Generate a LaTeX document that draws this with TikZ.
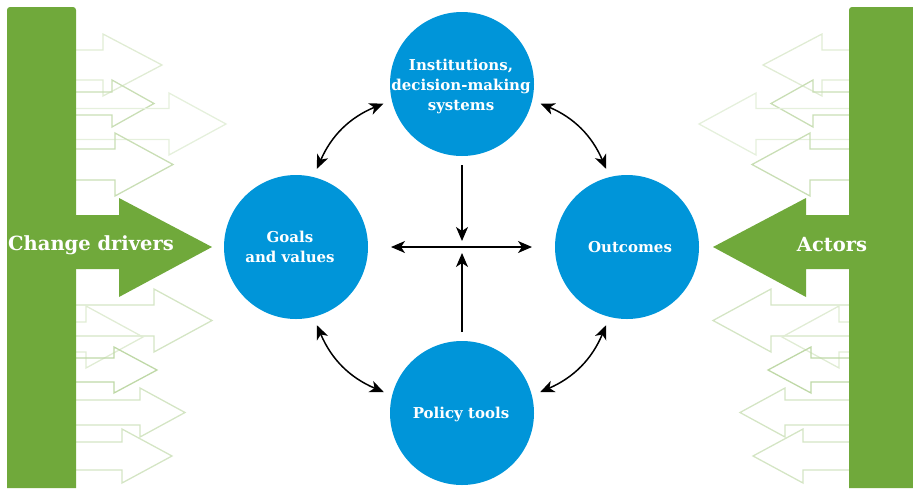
\documentclass[tikz,border=0pt]{standalone}
\usepackage{fontspec}
\setmainfont{DejaVu Serif}
\usetikzlibrary{arrows.meta}
\definecolor{gr}{HTML}{70A93B}
\definecolor{bl}{HTML}{0095D9}
\newcommand\fa[6]{%
  \draw[faint,draw=gr!#1!white] (76,#2-#3) -- (#5,#2-#3) -- (#5,#2-#4) -- (#6,#2) -- (#5,#2+#4) -- (#5,#2+#3) -- (76,#2+#3);}
\newcommand\sidepart{%
  \fa{22}{65}{15}{31}{103}{162}
  \fa{38}{103.5}{11.5}{23.5}{112}{154}
  \fa{18}{124}{15.5}{31}{169}{226}
  \fa{38}{164.5}{15.5}{31.5}{115}{173}
  \fa{30}{320.5}{15.5}{31.5}{154}{212}
  \fa{22}{337}{15}{31}{86}{143}
  \fa{45}{370}{12}{23}{114}{157}
  \fa{30}{412.5}{12.5}{24.5}{140}{185}
  \fa{30}{456}{14}{27}{122}{172}
  \fill[gr] (7,488) {[rounded corners=3pt] -- (7,7) -- (76,7)} -- (76,488) -- cycle;
  \fill[gr] (75,215) -- (119,215) -- (119,198) -- (212,247) -- (119,297) -- (119,269) -- (75,269) -- cycle;}
\begin{document}
\begin{tikzpicture}[x=1pt,y=-1pt,
  faint/.style={line width=1.3pt},
  circ/.style={circle,fill=bl,minimum size=144pt,inner sep=0pt,outer sep=9pt},
  ctext/.style={text=white,align=center,inner sep=0pt,font=\fontsize{15}{20}\selectfont\bfseries},
  hd/.tip={Stealth[length=14pt,width=12pt,inset=4pt]},
  arr/.style={-hd,line width=1.5pt},
  darr/.style={hd-hd,line width=1.5pt},
  lbl/.style={text=white,font=\fontsize{19.5}{24}\selectfont\bfseries,inner sep=0pt}]
\useasboundingbox (0,0) rectangle (913,488);
\sidepart
\begin{scope}[xshift=925pt,xscale=-1]
\sidepart
\end{scope}
\node[lbl] (cd) at (91,245) {Change drivers};
\node[lbl] (ac) at (832,245) {Actors};
\node[circ] (inst) at (462,84) {};
\node[ctext] (insttext) at (461,86) {Institutions,\\decision-making\\systems};
\node[circ] (goals) at (296,247) {};
\node[ctext] (goalstext) at (290,247) {Goals\\and values};
\node[circ] (outc) at (627,247) {};
\node[ctext] (outctext) at (630,247) {Outcomes};
\node[circ] (pol) at (462,413) {};
\node[ctext] (poltext) at (461,414) {Policy tools};
\coordinate (c) at (462,247);
\draw[arr,shorten >=6pt] (inst) -- (c);
\draw[arr,shorten >=6pt] (pol) -- (c);
\draw[darr,shorten <=14pt,shorten >=14pt] (goals) -- (outc);
\draw[darr] (inst.194) to[bend right=22] (goals.75);
\draw[darr] (inst.346) to[bend left=22] (outc.105);
\draw[darr] (goals.285) to[bend right=22] (pol.165);
\draw[darr] (outc.255) to[bend left=22] (pol.15);
\end{tikzpicture}
\end{document}
